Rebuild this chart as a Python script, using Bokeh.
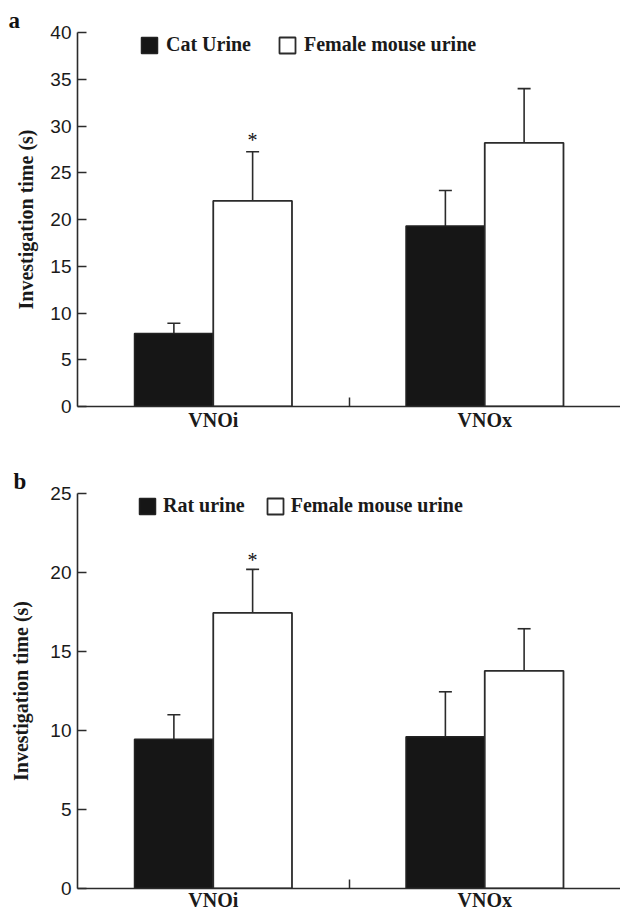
import numpy as np
from bokeh.plotting import figure
from bokeh.layouts import column
from bokeh.models import (Range1d, FixedTicker, Whisker, TeeHead, ColumnDataSource,
                          Legend, LegendItem)
from bokeh.core.properties import value
from bokeh.embed import file_html
from bokeh.resources import INLINE

# ---------------- data ----------------
groups = ["VNOi", "VNOx"]

a_series = ["Cat Urine", "Female mouse urine"]
a_stim_mean = [7.8, 19.3]
a_stim_sem = [1.1, 3.8]
a_fem_mean = [22.0, 28.2]
a_fem_sem = [5.25, 5.8]
a_sig = ["*", ""]
a_yticks = [0, 5, 10, 15, 20, 25, 30, 35, 40]

b_series = ["Rat urine", "Female mouse urine"]
b_stim_mean = [9.45, 9.6]
b_stim_sem = [1.55, 2.85]
b_fem_mean = [17.45, 13.78]
b_fem_sem = [2.75, 2.66]
b_sig = ["*", ""]
b_yticks = [0, 5, 10, 15, 20, 25]

y_title = "Investigation time (s)"

SERIF = "Liberation Serif"
SANS = "Liberation Sans"
DARK = "#2b2b2b"


def make_panel(letter, series, stim_mean, stim_sem, fem_mean, fem_sem, sig, yticks,
               height, border_top, frame_h, legend_cfg, star_off, letter_off,
               ylab_standoff, xlab_standoff):
    ymax = yticks[-1]
    p = figure(width=620, height=height, x_range=Range1d(0, len(groups)),
               y_range=Range1d(0, ymax), toolbar_location=None, output_backend="svg",
               min_border_left=77, min_border_right=0, min_border_top=border_top,
               min_border_bottom=height - border_top - frame_h)
    p.outline_line_color = None
    p.xgrid.visible = False
    p.ygrid.visible = False
    p.background_fill_color = "white"
    p.border_fill_color = "white"

    # panel letter as the figure title
    p.title.text = letter
    p.title.align = "left"
    p.title.offset = letter_off
    p.title.standoff = 0
    p.title.text_font = SERIF
    p.title.text_font_style = "bold"
    p.title.text_font_size = "23px"
    p.title.text_color = "#111111"

    centers = np.arange(len(groups)) + 0.5
    off = 0.145
    w = 0.29
    src_s = ColumnDataSource(dict(x=centers - off, top=stim_mean,
                                  upper=np.array(stim_mean) + np.array(stim_sem)))
    src_f = ColumnDataSource(dict(x=centers + off, top=fem_mean,
                                  upper=np.array(fem_mean) + np.array(fem_sem), sig=sig))
    r_s = p.vbar(x="x", top="top", bottom=0, width=w, source=src_s,
                 fill_color="#161616", line_color="#222222", line_width=1.5)
    r_f = p.vbar(x="x", top="top", bottom=0, width=w, source=src_f,
                 fill_color="white", line_color=DARK, line_width=1.8)

    for src in (src_s, src_f):
        wk = Whisker(source=src, base="x", lower="top", upper="upper", dimension="height",
                     line_color=DARK, line_width=1.6, lower_head=None,
                     upper_head=TeeHead(size=13, line_color=DARK, line_width=1.6))
        p.add_layout(wk)

    p.text(x="x", y="upper", text="sig", source=src_f, text_align="center",
           text_baseline="alphabetic", y_offset=star_off, text_font=value(SERIF),
           text_font_size="20px", text_color="#111111")

    # axes
    p.xaxis.ticker = FixedTicker(ticks=list(centers), minor_ticks=[1.0])
    p.xaxis.major_label_overrides = {float(c): g for c, g in zip(centers, groups)}
    p.xaxis.major_tick_line_color = None
    p.xaxis.major_tick_in = 0
    p.xaxis.major_tick_out = 0
    p.xaxis.minor_tick_in = 9
    p.xaxis.minor_tick_out = 0
    p.xaxis.minor_tick_line_color = DARK
    p.xaxis.minor_tick_line_width = 1.5
    p.xaxis.major_label_standoff = xlab_standoff
    p.xaxis.major_label_text_font = SERIF
    p.xaxis.major_label_text_font_style = "bold"
    p.xaxis.major_label_text_font_size = "20px"
    p.xaxis.major_label_text_color = "#1a1a1a"

    p.yaxis.ticker = FixedTicker(ticks=yticks)
    p.yaxis.major_tick_in = 9
    p.yaxis.major_tick_out = 0
    p.yaxis.major_tick_line_color = DARK
    p.yaxis.major_tick_line_width = 1.5
    p.yaxis.minor_tick_line_color = None
    p.yaxis.minor_tick_in = 0
    p.yaxis.minor_tick_out = 0
    p.yaxis.major_label_standoff = 6
    p.yaxis.major_label_text_font = SANS
    p.yaxis.major_label_text_font_size = "19px"
    p.yaxis.major_label_text_color = "#1a1a1a"
    p.yaxis.axis_label = y_title
    p.yaxis.axis_label_text_font = SERIF
    p.yaxis.axis_label_text_font_style = "bold"
    p.yaxis.axis_label_text_font_size = "20px"
    p.yaxis.axis_label_text_color = "#1a1a1a"
    p.yaxis.axis_label_standoff = ylab_standoff

    for ax in (p.xaxis[0], p.yaxis[0]):
        ax.axis_line_color = DARK
        ax.axis_line_width = 1.6

    lx, ly, standoff, spacing = legend_cfg
    legend = Legend(items=[LegendItem(label=series[0], renderers=[r_s]),
                           LegendItem(label=series[1], renderers=[r_f])],
                    orientation="horizontal", location=(lx, ly),
                    glyph_width=20, glyph_height=20, label_standoff=standoff,
                    spacing=spacing, padding=0, margin=0,
                    border_line_color=None, background_fill_alpha=0,
                    label_text_font=SERIF, label_text_font_style="bold",
                    label_text_font_size="20px", label_text_color="#1a1a1a")
    p.add_layout(legend, "center")
    return p


pa = make_panel("a", a_series, a_stim_mean, a_stim_sem, a_fem_mean, a_fem_sem, a_sig,
                a_yticks, height=434, border_top=32, frame_h=374,
                legend_cfg=(62, 374 - 24, 7, 26), star_off=-12, letter_off=-69,
                ylab_standoff=10, xlab_standoff=2)
pb = make_panel("b", b_series, b_stim_mean, b_stim_sem, b_fem_mean, b_fem_sem, b_sig,
                b_yticks, height=480, border_top=59, frame_h=395,
                legend_cfg=(60, 395 - 24, 6, 20), star_off=-9, letter_off=-64,
                ylab_standoff=15, xlab_standoff=0)

layout = column(pa, pb, spacing=0)
open("out.html", "w").write(file_html(layout, INLINE))
